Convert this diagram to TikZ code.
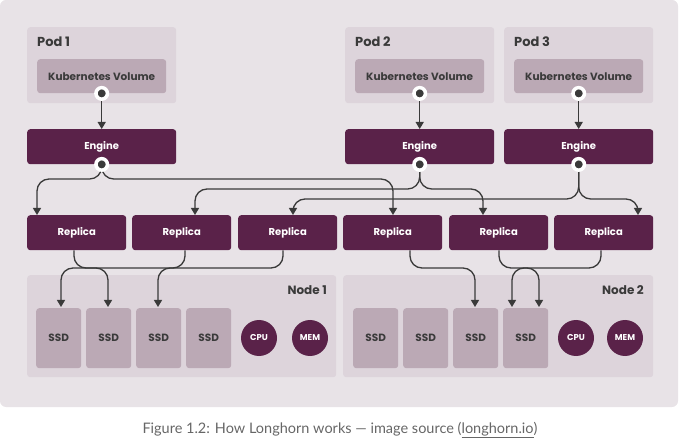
\documentclass[tikz,border=0pt]{standalone}
\usepackage{fontspec}
\setmainfont{Poppins}
\newfontfamily\capfont{Lato}
\usetikzlibrary{arrows.meta,calc}
\definecolor{panelbg}{HTML}{E8E3E7}
\definecolor{podbg}{HTML}{DDD4DB}
\definecolor{kvbg}{HTML}{BBA9B5}
\definecolor{plum}{HTML}{5A2249}
\definecolor{ink}{HTML}{3A3A3A}
\definecolor{capgray}{HTML}{666666}
\tikzset{
  box/.style={anchor=north west, inner sep=0pt, rounded corners=3pt},
  podbox/.style={box, fill=podbg, minimum width=149pt, minimum height=76pt},
  kvbox/.style={box, fill=kvbg, minimum width=129pt, minimum height=34pt, text=ink, font=\bfseries\fontsize{10.5}{12}\selectfont},
  engbox/.style={box, fill=plum, minimum width=149pt, minimum height=35pt, text=white, font=\bfseries\fontsize{10}{12}\selectfont},
  repbox/.style={box, fill=plum, minimum width=99pt, minimum height=35pt, text=white, font=\bfseries\fontsize{10}{12}\selectfont},
  nodebox/.style={box, fill=podbg, minimum height=102pt},
  ssdbox/.style={box, fill=kvbg, minimum width=45pt, minimum height=60pt, text=ink, font=\bfseries\fontsize{10.5}{12}\selectfont},
  res/.style={circle, fill=plum, minimum size=36pt, inner sep=0pt, text=white, font=\bfseries\fontsize{8.5}{10}\selectfont},
  lbl/.style={inner sep=0pt, text=ink, font=\bfseries\fontsize{13}{14}\selectfont},
  dot/.style={circle, fill=ink, draw=white, line width=3.5pt, minimum size=11.5pt, inner sep=0pt},
  conn/.style={draw=ink, line width=1.3pt, rounded corners=12pt, -{Triangle[width=8pt,length=7pt]}},
}
\begin{document}
\begin{tikzpicture}[x=1pt,y=-1pt]
\useasboundingbox (0,0) rectangle (680,438);
\fill[panelbg, rounded corners=6pt] (0,0) rectangle (678,407);

% pods
\node[podbox] (pod1) at (27,27) {};
\node[podbox] (pod2) at (345,27) {};
\node[podbox] (pod3) at (504,27) {};
\node[lbl, anchor=west] (pod1l) at (37,42) {Pod 1};
\node[lbl, anchor=west] (pod2l) at (355,42) {Pod 2};
\node[lbl, anchor=west] (pod3l) at (514,42) {Pod 3};
\node[kvbox] (kv1) at (37,59) {Kubernetes Volume};
\node[kvbox] (kv2) at (355,59) {Kubernetes Volume};
\node[kvbox] (kv3) at (514,59) {Kubernetes Volume};

% engines
\node[engbox] (eng1) at (27,129) {Engine};
\node[engbox] (eng2) at (345,129) {Engine};
\node[engbox] (eng3) at (504,129) {Engine};

% replicas
\node[repbox] (r1) at (27,215) {Replica};
\node[repbox] (r2) at (132,215) {Replica};
\node[repbox] (r3) at (238,215) {Replica};
\node[repbox] (r4) at (343,215) {Replica};
\node[repbox] (r5) at (449,215) {Replica};
\node[repbox] (r6) at (554,215) {Replica};

% nodes
\node[nodebox, minimum width=309pt] (n1) at (27,275) {};
\node[nodebox, minimum width=310pt] (n2) at (343,275) {};
\node[lbl, anchor=east, font=\bfseries\fontsize{12}{14}\selectfont] (n1l) at (327,290) {Node 1};
\node[lbl, anchor=east, font=\bfseries\fontsize{12}{14}\selectfont] (n2l) at (644,290) {Node 2};
\node[ssdbox] (s1) at (36,308) {SSD};
\node[ssdbox] (s2) at (86,308) {SSD};
\node[ssdbox] (s3) at (136,308) {SSD};
\node[ssdbox] (s4) at (186,308) {SSD};
\node[ssdbox] (s5) at (353,308) {SSD};
\node[ssdbox] (s6) at (403,308) {SSD};
\node[ssdbox] (s7) at (453,308) {SSD};
\node[ssdbox] (s8) at (503,308) {SSD};
\node[res] (cpu1) at (259,338) {CPU};
\node[res] (mem1) at (310,338) {MEM};
\node[res] (cpu2) at (576,338) {CPU};
\node[res] (mem2) at (625,338) {MEM};

% connection points
\coordinate (k1d) at (kv1.south);
\coordinate (k2d) at (kv2.south);
\coordinate (k3d) at (kv3.south);
\coordinate (e1d) at (eng1.south);
\coordinate (e2d) at (eng2.south);
\coordinate (e3d) at (eng3.south);
\coordinate (r1in) at ([xshift=10pt]r1.north west);
\coordinate (r2in) at ([xshift=63pt]r2.north west);
\coordinate (r3in) at ([xshift=55pt]r3.north west);
\coordinate (r4in) at ([xshift=50pt]r4.north west);
\coordinate (r5in) at ([xshift=34pt]r5.north west);
\coordinate (r6in) at ([xshift=84pt]r6.north west);
\coordinate (r1out) at ([xshift=47pt]r1.south west);
\coordinate (r2out) at ([xshift=53pt]r2.south west);
\coordinate (r3out) at ([xshift=45pt]r3.south west);
\coordinate (r4out) at ([xshift=67pt]r4.south west);
\coordinate (r5out) at ([xshift=50pt]r5.south west);
\coordinate (r6out) at ([xshift=47pt]r6.south west);
\coordinate (s1in) at ([xshift=25pt,yshift=1pt]s1.north west);
\coordinate (s2in) at ([xshift=22pt,yshift=1pt]s2.north west);
\coordinate (s3in) at ([xshift=22pt,yshift=1pt]s3.north west);
\coordinate (s7in) at ([xshift=22pt,yshift=1pt]s7.north west);
\coordinate (s8inl) at ([xshift=9pt,yshift=1pt]s8.north west);
\coordinate (s8inr) at ([xshift=36pt,yshift=1pt]s8.north west);

% volume -> engine
\draw[conn] (k1d) -- (eng1.north);
\draw[conn] (k2d) -- (eng2.north);
\draw[conn] (k3d) -- (eng3.north);

% engine -> replicas
\draw[conn] (e1d) |- ([yshift=36pt]r1in) -- (r1in);
\draw[conn] (e1d) |- ([yshift=36pt]r4in) -- (r4in);
\draw[conn] (e2d) |- ([yshift=26pt]r2in) -- (r2in);
\draw[conn] (e2d) |- ([yshift=26pt]r5in) -- (r5in);
\draw[conn] (e3d) |- ([yshift=16pt]r3in) -- (r3in);
\draw[conn] (e3d) |- ([yshift=16pt]r6in) -- (r6in);

% replicas -> SSDs
\draw[conn] (r1out) |- ([yshift=39pt]s2in) -- (s2in);
\draw[conn] (r2out) |- ([yshift=39pt]s3in) -- (s3in);
\draw[conn] (r3out) |- ([yshift=39pt]s1in) -- (s1in);
\draw[conn] (r4out) |- ([yshift=39pt]s7in) -- (s7in);
\draw[conn] (r5out) |- ([yshift=39pt]s8inr) -- (s8inr);
\draw[conn] (r6out) |- ([yshift=39pt]s8inl) -- (s8inl);

% dots
\foreach \d in {k1d,k2d,k3d,e1d,e2d,e3d} \node[dot] at (\d) {};

% caption
\node[font=\capfont\fontsize{14.5}{16}\selectfont, text=capgray] (cap) at (340,430)
  {Figure 1.2: How Longhorn works — image source (\underline{longhorn.io})};
\end{tikzpicture}
\end{document}
